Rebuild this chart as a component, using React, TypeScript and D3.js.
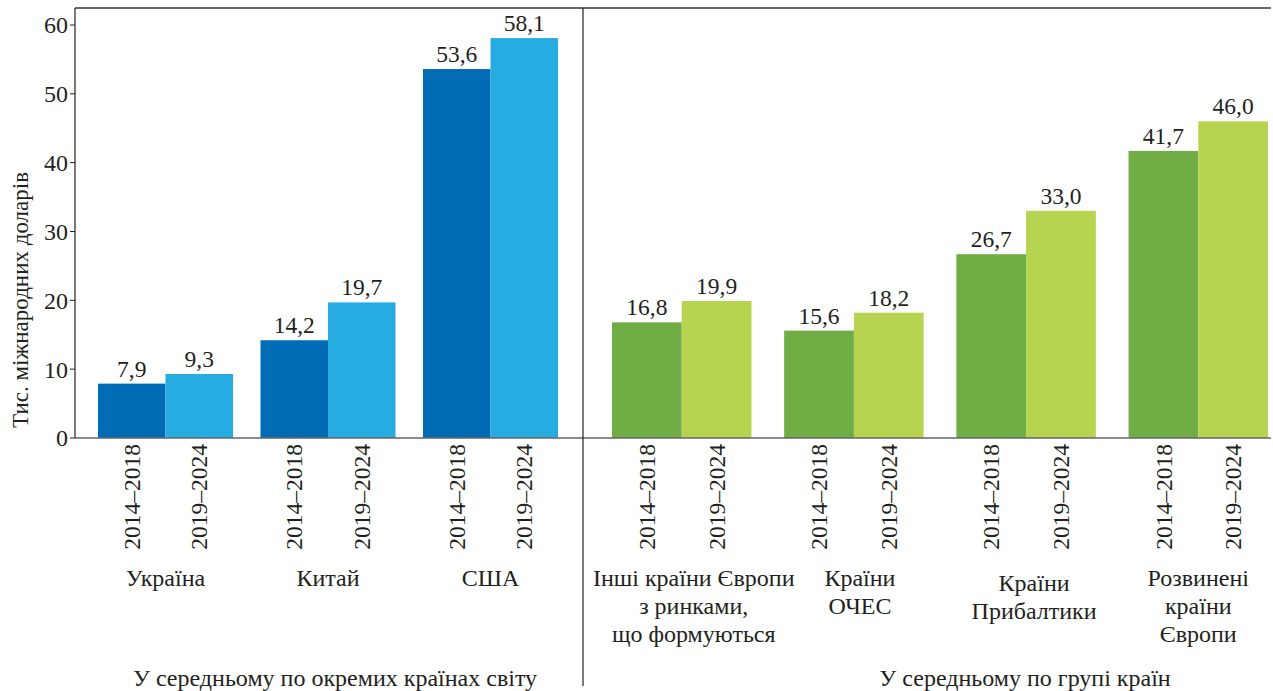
import React from "react";
import * as d3 from "d3";

const periods = ["2014–2018", "2019–2024"];

const leftCategories = ["Україна", "Китай", "США"];
const leftLabels = [["Україна"], ["Китай"], ["США"]];
const leftP1 = [7.9, 14.2, 53.6];
const leftP2 = [9.3, 19.7, 58.1];

const rightCategories = ["Інші", "ОЧЕС", "Прибалтики", "Розвинені"];
const rightLabels = [
  ["Інші країни Європи", "з ринками,", "що формуються"],
  ["Країни", "ОЧЕС"],
  ["Країни", "Прибалтики"],
  ["Розвинені", "країни", "Європи"],
];
const rightP1 = [16.8, 15.6, 26.7, 41.7];
const rightP2 = [19.9, 18.2, 33.0, 46.0];

const yTicks = [0, 10, 20, 30, 40, 50, 60];
const yTitle = "Тис. міжнародних доларів";
const leftPanelTitle = "У середньому по окремих країнах світу";
const rightPanelTitle = "У середньому по групі країн";

const W = 1273;
const H = 691;
const FONT = "Liberation Serif, DejaVu Serif, serif";
const TEXT = "#231f20";

export default function App() {
  const axisX = 75;
  const topY = 8;
  const baseY = 438;
  const sepX = 583;
  const rightEdge = 1271;

  const y = d3.scaleLinear().domain([0, 60]).range([baseY, 25]);

  const xLeft = d3.scaleBand<string>().domain(leftCategories).range([98, 558]).paddingInner(27.5 / 162.5).paddingOuter(0);
  const xRight = d3.scaleBand<string>().domain(rightCategories).range([612, 1268]).paddingInner(0.19).paddingOuter(0);

  const panels = [
    { x: xLeft, cats: leftCategories, labels: leftLabels, v: [leftP1, leftP2], colors: ["#006cb5", "#27ace2"], title: leftPanelTitle, tx: 335 },
    { x: xRight, cats: rightCategories, labels: rightLabels, v: [rightP1, rightP2], colors: ["#70ad45", "#b6d450"], title: rightPanelTitle, tx: 1025 },
  ];

  const labelNudge = (c: string) => (c === "Інші" ? 12 : c === "Прибалтики" ? 8 : c === "ОЧЕС" ? 6 : 0);

  return (
    <div style={{ position: "absolute", left: 0, top: 0 }}>
      <svg width={W} height={H} style={{ display: "block", background: "#fff", fontFamily: FONT }}>
        {panels.map((p, pi) => {
          const inner = d3.scaleBand<string>().domain(periods).range([0, p.x.bandwidth()]).padding(0);
          return (
            <g key={pi}>
              {p.cats.map((c, ci) => {
                const gx = p.x(c) as number;
                return (
                  <g key={c}>
                    {periods.map((per, si) => {
                      const val = p.v[si][ci];
                      const bx = gx + (inner(per) as number);
                      const bw = inner.bandwidth();
                      const cx = bx + bw / 2;
                      return (
                        <g key={per}>
                          <rect x={bx} y={y(val)} width={bw} height={baseY - y(val)} fill={p.colors[si]} />
                          <text x={cx} y={y(val) - 7} textAnchor="middle" fontSize={23.5} fill={TEXT}>
                            {val.toFixed(1).replace(".", ",")}
                          </text>
                          <text
                            transform={`translate(${cx},${baseY + 6}) rotate(-90)`}
                            textAnchor="end"
                            dy="0.35em"
                            fontSize={23.5}
                            fill={TEXT}
                          >
                            {per}
                          </text>
                        </g>
                      );
                    })}
                    {p.labels[ci].map((line, li) => (
                      <text
                        key={li}
                        x={gx + p.x.bandwidth() / 2 + labelNudge(c)}
                        y={586 + li * 28 + (c === "Прибалтики" ? 5 : 0)}
                        textAnchor="middle"
                        fontSize={24}
                        fill={TEXT}
                      >
                        {line}
                      </text>
                    ))}
                  </g>
                );
              })}
              <text x={p.tx} y={686} textAnchor="middle" fontSize={24} fill={TEXT}>
                {p.title}
              </text>
            </g>
          );
        })}

        <line x1={axisX} x2={rightEdge} y1={topY} y2={topY} stroke="#333" strokeWidth={1.5} />
        <line x1={axisX} x2={rightEdge} y1={baseY} y2={baseY} stroke="#666" strokeWidth={1.5} />
        <line x1={axisX} x2={axisX} y1={topY} y2={baseY} stroke="#222" strokeWidth={1.2} />
        <line x1={sepX} x2={sepX} y1={topY} y2={686} stroke="#222" strokeWidth={1.2} />

        {yTicks.map((t) => (
          <g key={t}>
            <line x1={axisX - 5} x2={axisX} y1={y(t)} y2={y(t)} stroke="#222" strokeWidth={1} />
            <text x={axisX - 7} y={y(t)} dy="0.35em" textAnchor="end" fontSize={24} fill={TEXT}>
              {t}
            </text>
          </g>
        ))}
        <text transform={`translate(28,300) rotate(-90)`} textAnchor="middle" fontSize={23} fill={TEXT}>
          {yTitle}
        </text>
      </svg>
    </div>
  );
}
